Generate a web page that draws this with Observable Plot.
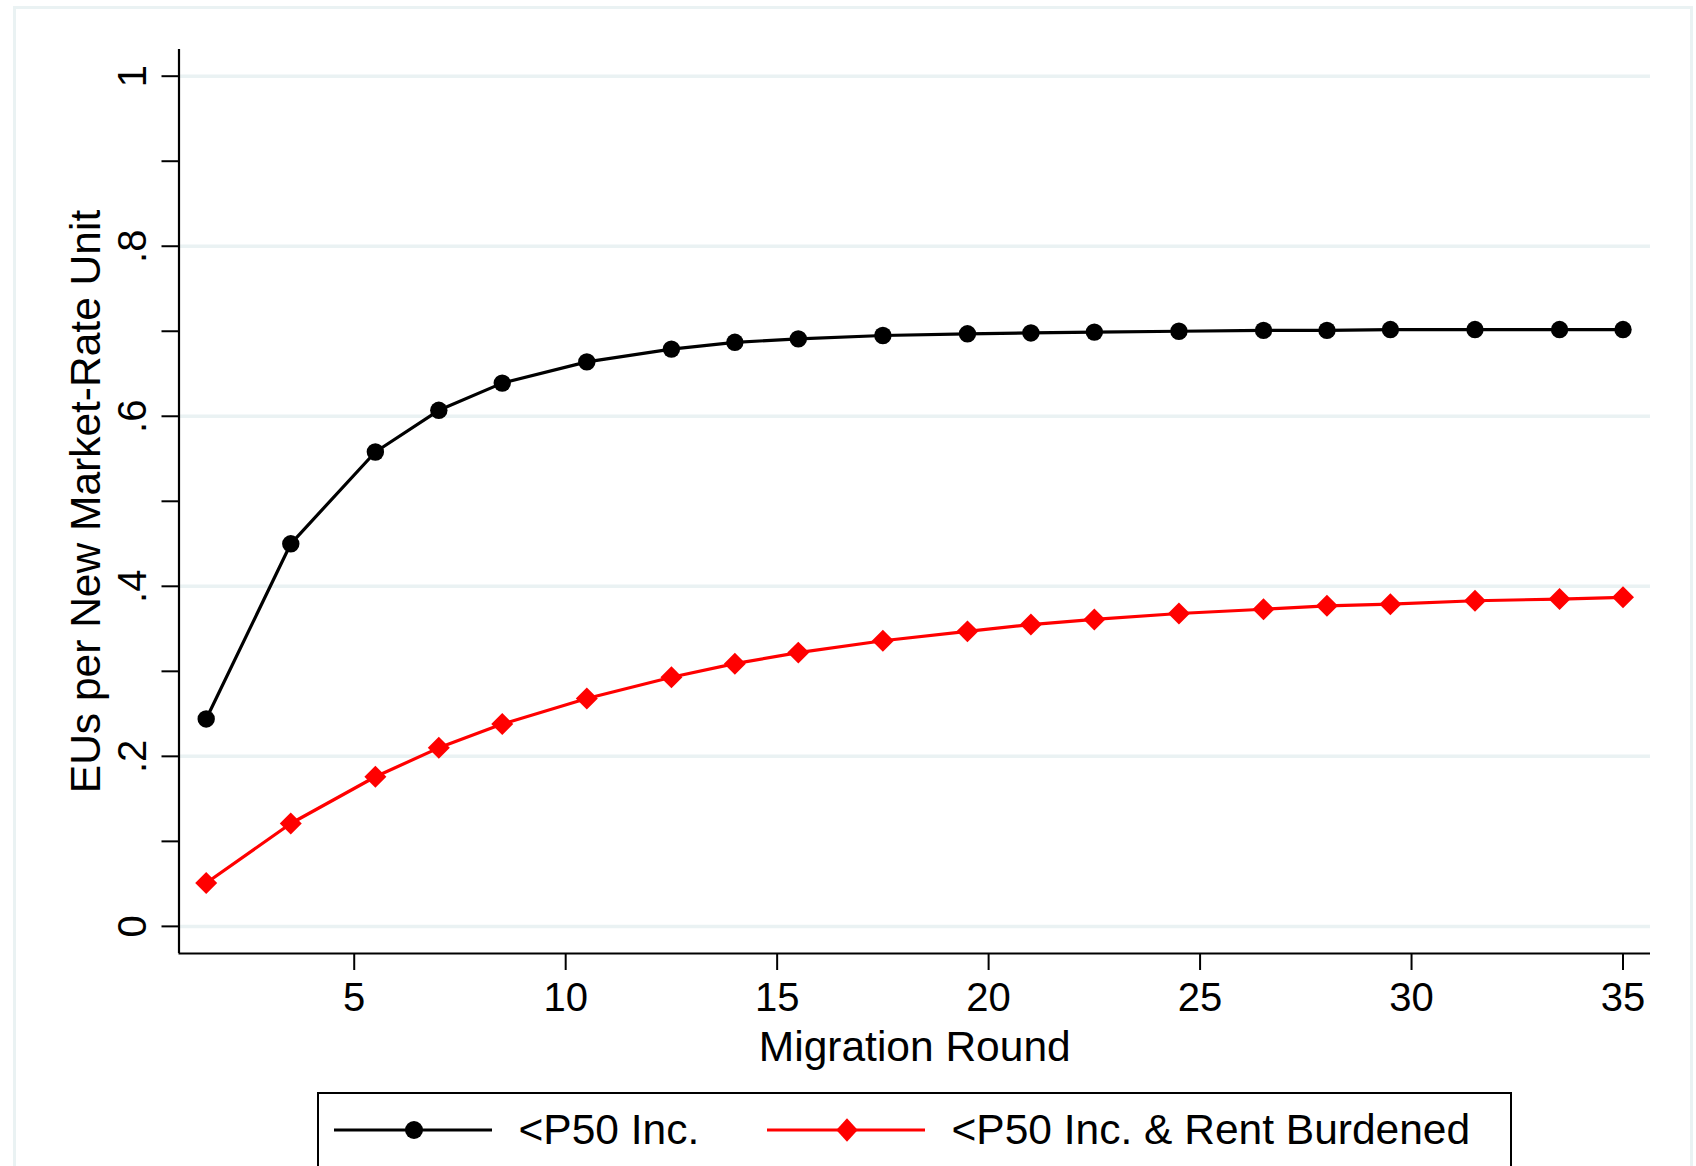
<!DOCTYPE html>
<html>
<head>
<meta charset="utf-8">
<script src="https://cdn.jsdelivr.net/npm/d3@7"></script>
<script src="https://cdn.jsdelivr.net/npm/@observablehq/plot@0.6"></script>
<style>
  html, body { margin: 0; padding: 0; background: #fff; width: 1696px; height: 1166px; overflow: hidden;
    font-family: "Liberation Sans", Arial, sans-serif; }
  #frame { position: absolute; left: 13px; top: 6px; width: 1680px; height: 1240px;
    border: 3px solid #eaf2f3; box-sizing: border-box; }
  #chart { position: absolute; left: 0; top: 0; }
  #legend { position: absolute; left: 317px; top: 1092px; width: 1195px; height: 130px;
    border: 2.5px solid #000; box-sizing: border-box; background: #fff; }
  .item { position: absolute; top: 16px; height: 40px; display: flex; align-items: center;
    font-size: 42.5px; line-height: 40px; white-space: nowrap; color: #000; }
  .item svg { margin-right: 27px; display: block; }
</style>
</head>
<body>
<div id="frame"></div>
<div id="chart"></div>
<div id="legend">
  <div class="item" style="left:14.5px">
    <svg width="158" height="40"><line x1="0" x2="158" y1="20" y2="20" stroke="#000" stroke-width="3.2"/><circle cx="80" cy="20" r="9" fill="#000"/></svg>
    <span id="lab0"></span>
  </div>
  <div class="item" style="left:447.5px">
    <svg width="158" height="40"><line x1="0" x2="158" y1="20" y2="20" stroke="#ff0000" stroke-width="3.2"/><polygon points="80,8.3 90.7,20 80,31.7 69.3,20" fill="#ff0000"/></svg>
    <span id="lab1"></span>
  </div>
</div>
<script>
// ---- data ----
const seriesNames = ["<P50 Inc.", "<P50 Inc. & Rent Burdened"];
const rounds = [1.5, 3.5, 5.5, 7, 8.5, 10.5, 12.5, 14, 15.5, 17.5, 19.5, 21, 22.5, 24.5, 26.5, 28, 29.5, 31.5, 33.5, 35];
const below50 = [0.244, 0.450, 0.558, 0.607, 0.639, 0.664, 0.679, 0.687, 0.691, 0.695, 0.697, 0.698, 0.699, 0.700, 0.701, 0.701, 0.702, 0.702, 0.702, 0.702];
const below50Burdened = [0.051, 0.121, 0.176, 0.210, 0.238, 0.268, 0.293, 0.309, 0.322, 0.336, 0.347, 0.355, 0.361, 0.368, 0.373, 0.377, 0.379, 0.383, 0.385, 0.387];

const xTicks = [5, 10, 15, 20, 25, 30, 35];
const yTicks = [0, 0.1, 0.2, 0.3, 0.4, 0.5, 0.6, 0.7, 0.8, 0.9, 1];
const yTickLabels = ["0", "", ".2", "", ".4", "", ".6", "", ".8", "", "1"];
const gridValues = [0, 0.2, 0.4, 0.6, 0.8, 1];
const xDomain = [0.857, 35.65];
const yDomain = [-0.0319, 1.0314];

const xTitle = "Migration Round";
const yTitle = "EUs per New Market-Rate Unit";

// ---- tables ----
const black = rounds.map((r, i) => ({round: r, value: below50[i]}));
const red = rounds.map((r, i) => ({round: r, value: below50Burdened[i]}));

document.getElementById("lab0").textContent = seriesNames[0];
document.getElementById("lab1").textContent = seriesNames[1];

const chart = Plot.plot({
  width: 1696,
  height: 1090,
  marginLeft: 178.5,
  marginRight: 46,
  marginTop: 49,
  marginBottom: 137,
  style: {fontFamily: "Liberation Sans, Arial, sans-serif", fontSize: "40px", color: "#000", background: "transparent", overflow: "visible"},
  x: {domain: xDomain},
  y: {domain: yDomain},
  marks: [
    Plot.ruleY(gridValues, {stroke: "#eaf2f3", strokeWidth: 3.5}),
    Plot.line(black, {x: "round", y: "value", stroke: "#000", strokeWidth: 3.2}),
    Plot.line(red, {x: "round", y: "value", stroke: "#ff0000", strokeWidth: 3.2}),
    Plot.dot(black, {x: "round", y: "value", r: 8.7, fill: "#000"}),
    Plot.dot(red, {x: "round", y: "value", symbol: "diamond2", r: 9.9, fill: "#ff0000"}),
    Plot.ruleX([xDomain[0]], {stroke: "#000", strokeWidth: 2.2}),
    Plot.ruleY([yDomain[0]], {stroke: "#000", strokeWidth: 2.2}),
    Plot.axisY({
      ticks: yTicks, tickSize: 17, tickPadding: 16, tickRotate: -90,
      tickFormat: d => yTickLabels[Math.round(d * 10)],
      strokeWidth: 2, fontSize: 40,
      label: null
    }),
    Plot.axisY({
      ticks: [], tickSize: 0,
      fontSize: 42.5,
      label: yTitle, labelAnchor: "center", labelOffset: 109.5, labelArrow: "none"
    }),
    Plot.axisX({
      ticks: xTicks, tickSize: 17, tickPadding: 12,
      tickFormat: d => String(d),
      strokeWidth: 2, fontSize: 40,
      label: null
    }),
    Plot.axisX({
      ticks: [], tickSize: 0,
      fontSize: 42.5,
      label: xTitle, labelAnchor: "center", labelOffset: 107, labelArrow: "none"
    })
  ]
});
document.getElementById("chart").appendChild(chart);
</script>
</body>
</html>
